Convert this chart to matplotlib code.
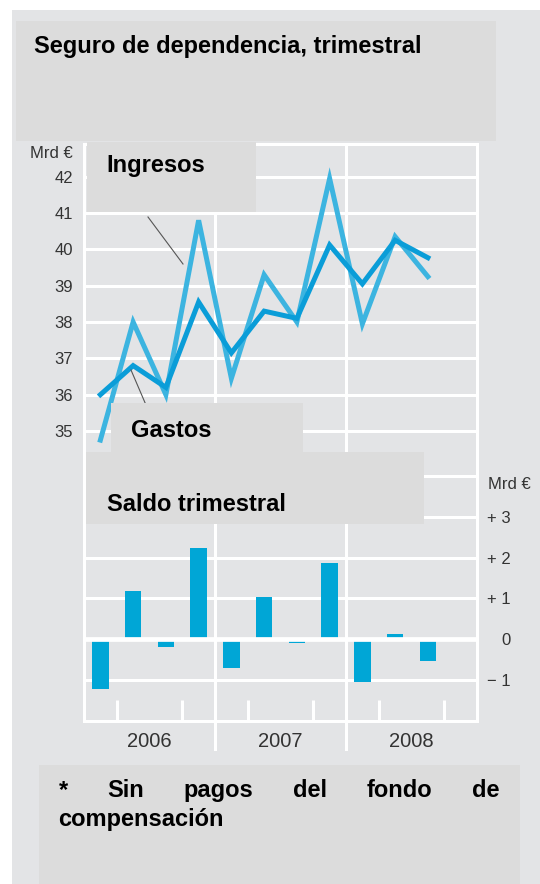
import matplotlib
matplotlib.use("Agg")
import matplotlib.pyplot as plt
from matplotlib.patches import Rectangle
from matplotlib.lines import Line2D

# ---------------- data ----------------
quarters = ["2006 T1", "2006 T2", "2006 T3", "2006 T4",
            "2007 T1", "2007 T2", "2007 T3", "2007 T4",
            "2008 T1", "2008 T2", "2008 T3"]
ingresos = [34.75, 38.0, 36.0, 40.8, 36.45, 39.3, 38.0, 41.95, 37.95, 40.35, 39.25]
gastos = [36.0, 36.8, 36.2, 38.55, 37.15, 38.3, 38.1, 40.12, 39.05, 40.25, 39.77]
saldo = [-1.23, 1.19, -0.2, 2.25, -0.7, 1.04, -0.1, 1.88, -1.05, 0.12, -0.53]
years = ["2006", "2007", "2008"]
top_ticks = [35, 36, 37, 38, 39, 40, 41, 42]
top_labels = ["35", "36", "37", "38", "39", "40", "41", "42"]
bottom_ticks = [-1, 0, 1, 2, 3]
bottom_labels = ["\u2212 1", "0", "+ 1", "+ 2", "+ 3"]

title = "Seguro de dependencia, trimestral"
label_ing = "Ingresos"
label_gas = "Gastos"
label_saldo = "Saldo trimestral"
unit = "Mrd \u20ac"
footer_words = ["*", "Sin", "pagos", "del", "fondo", "de"]
footer_line2 = "compensaci\u00f3n"

# ---------------- style ----------------
W, H = 540, 884
PANEL = "#e3e4e6"
BOX = "#dcdcdc"
C_ING = "#3cb4e0"
C_GAS = "#0a9dd8"
C_BAR = "#00a6d6"
TICK_C = "#333333"
BOLD = dict(family=["Liberation Sans", "DejaVu Sans"], fontweight="bold", fontsize=17, color="black")
REG = ["Liberation Sans", "DejaVu Sans"]

fig = plt.figure(figsize=(W / 100, H / 100), dpi=100)
fig.patch.set_facecolor(PANEL)


def fx(x):
    return x / W


def fy(y):
    return 1 - y / H


def rect(x0, y0, x1, y1, color, z):
    fig.add_artist(Rectangle((fx(x0), fy(y1)), (x1 - x0) / W, (y1 - y0) / H,
                             transform=fig.transFigure, facecolor=color,
                             edgecolor="none", zorder=z))


# white margin at the top and left of the grey panel
rect(-5, -5, W + 5, 10.3, "white", -10)
rect(-5, -5, 12.4, H + 5, "white", -10)

L, R = 84, 477
TOP, MID, BOT = 144, 455, 720.7
x = list(range(len(quarters)))

# ---------------- top axes ----------------
ax1 = fig.add_axes([fx(L), fy(MID), (R - L) / W, (MID - TOP) / H])
ax1.set_facecolor(PANEL)
ax1.set_xlim(-0.5, 11.5)
ax1.set_ylim(42 - (MID - 176.7) / 36.33, 42 + (176.7 - TOP) / 36.33)
ax1.set_yticks(top_ticks)
ax1.set_yticklabels(top_labels)
ax1.set_xticks([])
ax1.tick_params(axis="y", length=0, pad=8, labelsize=12, labelcolor=TICK_C)
for lab in ax1.get_yticklabels():
    lab.set_family(REG)
ax1.grid(axis="y", color="white", lw=2.2)
ax1.set_axisbelow(True)
for s in ["left", "right", "top"]:
    ax1.spines[s].set_color("white")
    ax1.spines[s].set_linewidth(2.2)
ax1.spines["bottom"].set_visible(False)
for xb in [3.5, 7.5]:
    ax1.axvline(xb, color="white", lw=2.2, zorder=1)
ax1.plot(x, ingresos, color=C_ING, lw=3.6, solid_joinstyle="miter", zorder=3)
ax1.plot(x, gastos, color=C_GAS, lw=3.6, solid_joinstyle="miter", zorder=4)

# ---------------- bottom axes ----------------
ax2 = fig.add_axes([fx(L), fy(BOT), (R - L) / W, (BOT - MID) / H])
ax2.set_facecolor(PANEL)
ax2.set_xlim(-0.5, 11.5)
ax2.set_ylim(-2.0, 4.52)
ax2.yaxis.tick_right()
ax2.set_yticks(bottom_ticks + [4])
ax2.set_yticklabels(bottom_labels + [""])
ax2.tick_params(axis="y", length=0, pad=24, labelsize=12, labelcolor=TICK_C)
for lab in ax2.get_yticklabels():
    lab.set_family(REG)
    lab.set_horizontalalignment("right")
ax2.grid(axis="y", color="white", lw=2.2)
ax2.set_axisbelow(True)
for s in ["left", "right", "bottom"]:
    ax2.spines[s].set_color("white")
    ax2.spines[s].set_linewidth(2.2)
ax2.spines["top"].set_visible(False)
ax2.bar(x, saldo, width=0.5, color=C_BAR, zorder=2)
ax2.axhline(0, color="white", lw=3.4, zorder=3)
for xb in [3.5, 7.5]:
    ax2.axvline(xb, ymin=-0.107, ymax=1, color="white", lw=2.2, zorder=1, clip_on=False)
ax2.set_xticks([1.5, 5.5, 9.5])
ax2.set_xticklabels(years)
ax2.set_xticks([k + 0.5 for k in range(11)], minor=True)
ax2.tick_params(axis="x", which="major", length=0, pad=8, labelsize=14.5, labelcolor=TICK_C)
ax2.tick_params(axis="x", which="minor", direction="in", length=15, width=2.2, color="white")
for lab in ax2.get_xticklabels():
    lab.set_family(REG)

# ---------------- boxes & labels ----------------
rect(15.5, 20.7, 496, 141, BOX, 10)
fig.text(fx(34), fy(53.4), title, va="baseline", ha="left", zorder=20, **BOLD)

fig.add_artist(Line2D([fx(148), fx(183)], [fy(217), fy(264)], transform=fig.transFigure,
                      color="#555555", lw=0.8, zorder=9))
fig.add_artist(Line2D([fx(131), fx(146)], [fy(370), fy(405)], transform=fig.transFigure,
                      color="#555555", lw=0.8, zorder=9))

rect(86.7, 142, 256, 211.7, BOX, 10)
fig.text(fx(106.7), fy(172.3), label_ing, va="baseline", ha="left", zorder=20, **BOLD)

rect(110.7, 403.3, 303.3, 451.7, BOX, 10)
fig.text(fx(131), fy(436.7), label_gas, va="baseline", ha="left", zorder=20, **BOLD)

rect(86, 451.7, 423.5, 524.3, BOX, 10)
fig.text(fx(106.7), fy(510.7), label_saldo, va="baseline", ha="left", zorder=20, **BOLD)

fig.text(fx(72.7), fy(153), unit, ha="right", va="center", fontsize=12,
         color=TICK_C, family=REG, zorder=20)
fig.text(fx(488), fy(484), unit, ha="left", va="center", fontsize=12,
         color=TICK_C, family=REG, zorder=20)

# footer
rect(39, 764.8, 520, H + 5, BOX, 10)
fig.canvas.draw()
renderer = fig.canvas.get_renderer()
wtexts = [fig.text(0, fy(796.8), w, va="baseline", ha="left", zorder=20, **BOLD)
          for w in footer_words]
widths = [t.get_window_extent(renderer).width for t in wtexts]
x0, x1 = 58.5, 499.3
gap = ((x1 - x0) - sum(widths)) / (len(footer_words) - 1)
cx = x0
for t, wd in zip(wtexts, widths):
    t.set_x(fx(cx))
    cx += wd + gap
fig.text(fx(58.5), fy(826), footer_line2, va="baseline", ha="left", zorder=20, **BOLD)

fig.savefig("out.png", dpi=100, facecolor=fig.get_facecolor())
